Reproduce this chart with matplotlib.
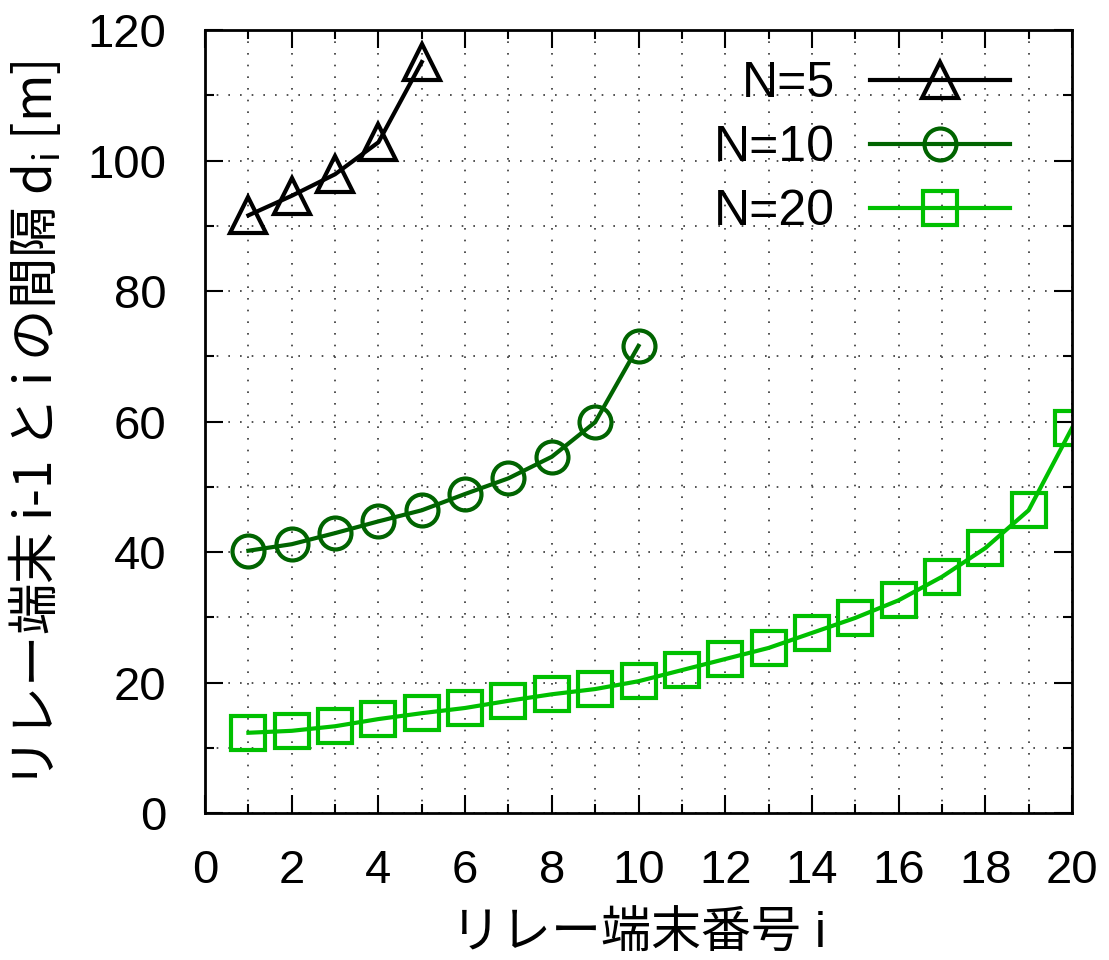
import matplotlib.pyplot as plt
from matplotlib.ticker import MultipleLocator

plt.rcParams['font.family'] = ['Liberation Sans', 'Noto Sans CJK JP', 'DejaVu Sans']

# relay index and spacing d_i [m] for each N
i_5 = [1, 2, 3, 4, 5]
d_5 = [91.6, 94.6, 97.9, 102.8, 115.1]

i_10 = [1, 2, 3, 4, 5, 6, 7, 8, 9, 10]
d_10 = [40.2, 41.2, 42.9, 44.7, 46.4, 48.9, 51.3, 54.6, 59.9, 71.6]

i_20 = list(range(1, 21))
d_20 = [12.3, 12.6, 13.3, 14.4, 15.3, 16.1, 17.2, 18.2, 19.0, 20.2,
        21.9, 23.6, 25.3, 27.6, 29.9, 32.6, 36.2, 40.6, 46.4, 59.0]

fig = plt.figure(figsize=(11.09, 9.6), dpi=100)
ax = fig.add_axes([0.1849, 0.1531, 0.7817, 0.8156])

ax.plot(i_5, d_5, color='black', lw=3, marker='^', ms=26, mfc='none', mew=3, label='N=5')
ax.plot(i_10, d_10, color='#006400', lw=3, marker='o', ms=23, mfc='none', mew=3, label='N=10')
ax.plot(i_20, d_20, color='#00C000', lw=3, marker='s', ms=24, mfc='none', mew=3, label='N=20')

ax.set_xlim(0, 20)
ax.set_ylim(0, 120)
ax.xaxis.set_major_locator(MultipleLocator(2))
ax.xaxis.set_minor_locator(MultipleLocator(1))
ax.yaxis.set_major_locator(MultipleLocator(20))
ax.yaxis.set_minor_locator(MultipleLocator(10))

ax.grid(which='both', color='#333333', linestyle=(0, (1, 6)), linewidth=1.2)
ax.tick_params(which='both', direction='in', top=True, right=True, labelsize=34, width=1.5)
ax.tick_params(which='major', length=13)
ax.tick_params(which='minor', length=6.5)
ax.tick_params(axis='x', which='major', pad=26)
ax.tick_params(axis='y', which='major', pad=28)
for s in ax.spines.values():
    s.set_linewidth(2)

ax.set_xlabel('リレー端末番号 i', fontsize=36)
ax.xaxis.set_label_coords(0.5, -0.126)
ax.set_ylabel('リレー端末 i-1 と i の間隔 d$_\\mathregular{i}$ [m]', fontsize=37,
              family='Noto Sans CJK JP')
ax.yaxis.set_label_coords(-0.163, 0.4955)

ax.legend(loc='upper right', markerfirst=False, frameon=False, fontsize=36,
          handlelength=2.8, handletextpad=0.7, labelspacing=0.36,
          borderaxespad=0, borderpad=0, bbox_to_anchor=(0.9285, 0.96))

fig.savefig('out.png', dpi=100)
